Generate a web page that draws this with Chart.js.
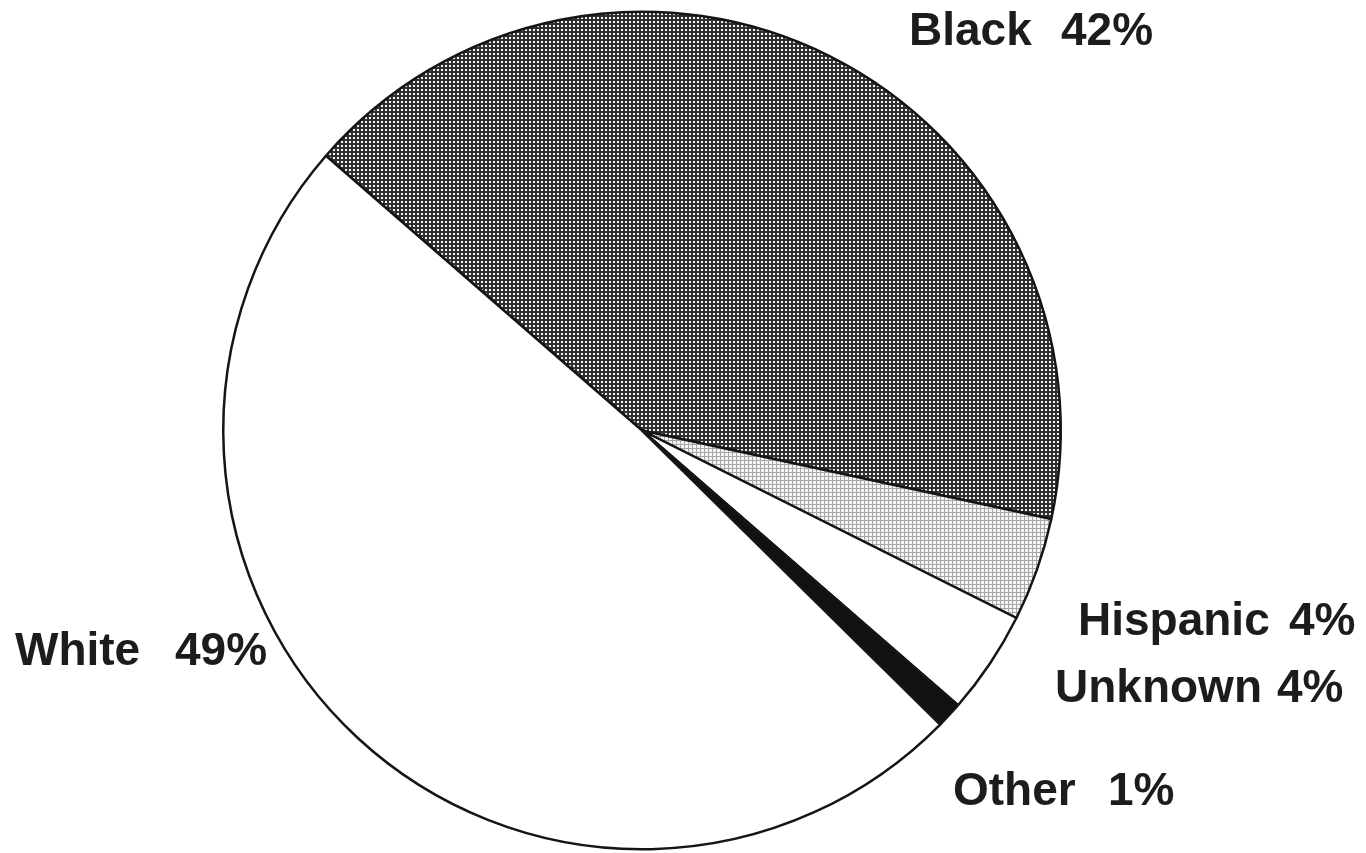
<!DOCTYPE html>
<html>
<head>
<meta charset="utf-8">
<title>Race / ethnicity</title>
<script src="https://cdn.jsdelivr.net/npm/chart.js@4.4.1/dist/chart.umd.min.js"></script>
<style>
  html, body { margin: 0; padding: 0; background: #fff; }
  #wrap { width: 1366px; height: 853px; position: relative; }
</style>
</head>
<body>
<div id="wrap"><canvas id="pieChart" width="1366" height="853"></canvas></div>
<script>
// --- DATOS ---
const categorias = ['Black', 'Hispanic', 'Unknown', 'Other', 'White'];
const porcentajes = [42, 4, 4, 1, 49];

// --- TRAMAS ---
// cuadricula de lineas: celda de 4px con hueco blanco
function tramaCuadricula(colorLinea, hueco) {
    const c = document.createElement('canvas');
    c.width = 4; c.height = 4;
    const g = c.getContext('2d');
    g.fillStyle = colorLinea;
    g.fillRect(0, 0, 4, 4);
    g.fillStyle = '#f6f6f6';
    g.fillRect(1, 1, hueco, hueco);
    return g.createPattern(c, 'repeat');
}

// Black = cuadricula oscura, Hispanic = cuadricula gris clara
const rellenos = [
    tramaCuadricula('#303030', 2),
    tramaCuadricula('#a6a6a6', 3),
    '#ffffff',
    '#111111',
    '#ffffff'
];

// --- ETIQUETAS ---
// [nombre, x, y (linea base), x del porcentaje]
const etiquetas = [
    ['Black', 909, 45, 1061],
    ['Hispanic', 1078, 635, 1289],
    ['Unknown', 1055, 702, 1277],
    ['Other', 953, 805, 1108],
    ['White', 15, 665, 175]
];

const pluginEtiquetas = {
    id: 'etiquetas',
    afterDraw(chart) {
        const ctx = chart.ctx;
        ctx.save();
        ctx.fillStyle = '#1c1c1c';
        ctx.font = 'bold 46px "Liberation Sans", Arial, sans-serif';
        ctx.textAlign = 'left';
        ctx.textBaseline = 'alphabetic';
        etiquetas.forEach((e, i) => {
            ctx.fillText(e[0], e[1], e[2]);
            ctx.fillText(porcentajes[i] + '%', e[3], e[2]);
        });
        ctx.restore();
    }
};

const fondoBlanco = {
    id: 'fondoBlanco',
    beforeDraw(chart) {
        const ctx = chart.ctx;
        ctx.save();
        ctx.fillStyle = '#ffffff';
        ctx.fillRect(0, 0, chart.width, chart.height);
        ctx.restore();
    }
};

new Chart(document.getElementById('pieChart'), {
    type: 'pie',
    data: {
        labels: categorias,
        datasets: [{
            data: porcentajes,
            backgroundColor: rellenos,
            borderColor: '#151515',
            borderWidth: 2.5
        }]
    },
    options: {
        responsive: false,
        animation: false,
        rotation: -49,
        layout: { padding: { left: 222, right: 304, top: 10, bottom: 2 } },
        plugins: {
            legend: { display: false },
            tooltip: { enabled: false }
        }
    },
    plugins: [fondoBlanco, pluginEtiquetas]
});
</script>
</body>
</html>
